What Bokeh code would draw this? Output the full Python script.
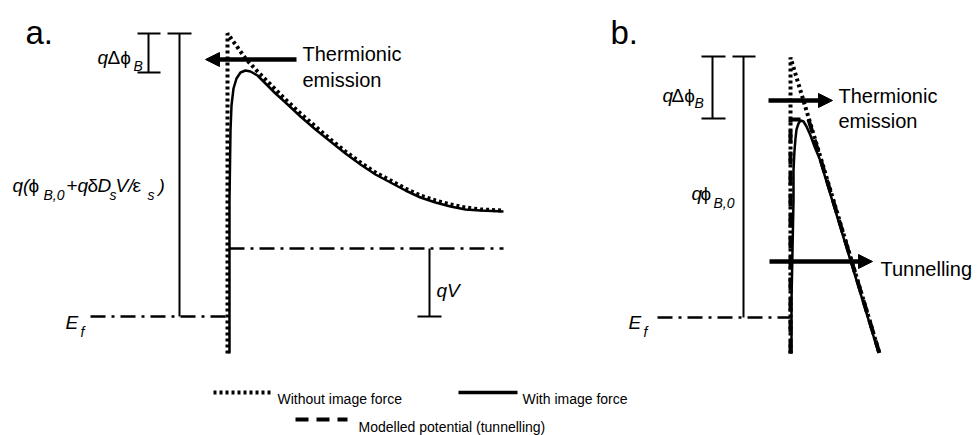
from bokeh.plotting import figure
from bokeh.models import Range1d, Arrow, NormalHead, ColumnDataSource
from bokeh.core.properties import value
from bokeh.embed import file_html
from bokeh.resources import INLINE

# ---------------- data (schematic, diagram units; y grows downward) ----------------
# Panel a: Schottky barrier band edge
a_without_x = [227, 227, 235, 245, 257, 270, 285, 300, 315, 330, 345, 360, 375, 390, 405, 420, 435, 450, 465, 480, 503]
a_without_y = [353, 33, 44, 58, 71, 84, 99, 113, 126, 139, 151, 162, 172, 180, 188, 195, 200, 204, 207, 209, 210]
a_with_x = [229, 229, 229, 230, 231, 233, 236, 240, 245, 250, 257, 265, 275, 285, 300, 315, 330, 345, 360,
            375, 390, 405, 420, 435, 450, 465, 480, 503]
a_with_y = [353, 300, 200, 130, 105, 88, 78, 72, 70, 71, 75, 83, 93, 102, 116, 129, 141, 153, 164,
            174, 182, 190, 197, 202, 206, 209, 210, 211]
# Panel b: thin barrier with modelled (tunnelling) potential
b_without_x = [790, 790, 879]
b_without_y = [353, 57, 353]
b_model_x = [790, 790, 808, 879]
b_model_y = [353, 119, 119, 353]
b_with_x = [791, 791, 792, 793, 793, 794, 795, 796, 798, 800, 803, 806, 810, 814, 819, 878]
b_with_y = [353, 300, 250, 200, 170, 150, 138, 129, 123, 120, 121, 126, 135, 146, 158, 352]

# reference energy levels
a_ef = dict(x=[90, 227], y=[316, 316])
a_bias = dict(x=[229, 503], y=[248, 248])
b_ef = dict(x=[657, 790], y=[317, 317])

# brackets (x0, y0, x1, y1)
br_x0 = [148, 137, 137, 179, 167, 429, 417, 712, 701, 701, 743, 732]
br_y0 = [33, 33, 72, 33, 33, 248, 316, 56, 56, 118, 56, 56]
br_x1 = [148, 160, 160, 179, 191, 429, 441, 712, 725, 725, 743, 755]
br_y1 = [72, 33, 72, 316, 33, 316, 316, 118, 56, 118, 317, 56]

# arrows (x_start, y_start, x_end, y_end)
arrows = [(296, 59, 205, 59), (768, 100, 832, 100), (769, 261, 872, 261)]

# texts: (text, x, baseline, size px, style)
texts = [
    ("a.", 25, 32, 33, "normal"), ("b.", 610, 32, 33, "normal"),
    ("q", 97, 57, 19, "italic"), ("Δϕ", 107, 57, 19, "normal"), ("B", 133, 65, 14, "italic"),
    ("q(", 12, 185, 19, "italic"), ("ϕ", 28, 185, 19, "normal"), ("B,0", 43, 194, 14, "italic"),
    ("+", 66, 185, 19, "normal"), ("q", 77, 185, 19, "italic"), ("δ", 87, 185, 19, "normal"),
    ("D", 97, 185, 19, "italic"), ("s", 109, 194, 14, "italic"), ("V/", 115, 185, 19, "italic"),
    ("ε", 132, 185, 19, "normal"), ("s", 147, 194, 14, "italic"), (")", 158, 185, 19, "italic"),
    ("E", 65, 322, 19, "italic"), ("f", 80, 331, 14, "italic"),
    ("qV", 436, 290, 19, "italic"),
    ("Thermionic", 302, 53, 20, "normal"), ("emission", 302, 79, 20, "normal"),
    ("q", 662, 95, 19, "italic"), ("Δϕ", 671, 95, 19, "normal"), ("B", 694, 102, 14, "italic"),
    ("q", 691, 193, 19, "italic"), ("ϕ", 700, 193, 19, "normal"), ("B,0", 713, 202, 14, "italic"),
    ("E", 628, 322, 19, "italic"), ("f", 643, 331, 14, "italic"),
    ("Thermionic", 838, 95, 20, "normal"), ("emission", 838, 120, 20, "normal"),
    ("Tunnelling", 880, 268, 20, "normal"),
]
legend_texts = [("Without image force", 277, 398), ("With image force", 522, 398),
                ("Modelled potential (tunnelling)", 358, 426)]
legend_dotted = dict(x=[213, 272], y=[392, 392])
legend_solid = dict(x=[458, 517], y=[392, 392])
legend_dashed = dict(x=[295, 347], y=[419, 419])

# ---------------- figure ----------------
W, H = 979, 435
p = figure(width=W, height=H, x_range=Range1d(0, W), y_range=Range1d(H, 0),
           output_backend="svg", toolbar_location=None, min_border=0,
           x_axis_location=None, y_axis_location=None)
p.grid.visible = False
p.outline_line_color = None
p.background_fill_color = "white"
p.border_fill_color = "white"

DOT = "3 3"
DASH = "13 8"
DASHDOT = "15 6 3 6"

# reference levels
for d in (a_ef, a_bias, b_ef):
    p.line(d["x"], d["y"], line_color="black", line_width=2.5, line_dash=DASHDOT)

# brackets
p.segment(br_x0, br_y0, br_x1, br_y1, line_color="black", line_width=2)

# curves
p.line(a_without_x, a_without_y, line_color="black", line_width=4, line_dash=DOT)
p.line(a_with_x, a_with_y, line_color="black", line_width=2.5)
p.line(b_without_x, b_without_y, line_color="black", line_width=4, line_dash=DOT)
p.line(b_model_x, b_model_y, line_color="black", line_width=4, line_dash=DASH)
p.line(b_with_x, b_with_y, line_color="black", line_width=2.5)

# arrows
for xs, ys, xe, ye in arrows:
    p.add_layout(Arrow(x_start=xs, y_start=ys, x_end=xe, y_end=ye, line_width=4.5, line_color="black",
                       end=NormalHead(size=14, fill_color="black", line_color="black", line_width=1)))

# legend samples
p.line(legend_dotted["x"], legend_dotted["y"], line_color="black", line_width=4, line_dash=DOT)
p.line(legend_solid["x"], legend_solid["y"], line_color="black", line_width=3.5)
p.line(legend_dashed["x"], legend_dashed["y"], line_color="black", line_width=4, line_dash=DASH)

# texts
src = ColumnDataSource(dict(
    text=[t[0] for t in texts], x=[t[1] for t in texts], y=[t[2] for t in texts],
    size=["%dpx" % t[3] for t in texts], style=[t[4] for t in texts]))
p.text(x="x", y="y", text="text", source=src, text_font=value("Liberation Sans"),
       text_font_size="size", text_font_style="style", text_align="left",
       text_baseline="alphabetic", text_color="black")

lsrc = ColumnDataSource(dict(text=[t[0] for t in legend_texts], x=[t[1] for t in legend_texts],
                             y=[t[2] for t in legend_texts]))
p.text(x="x", y="y", text="text", source=lsrc, text_font=value("Liberation Sans"),
       text_font_size="14px", text_align="left", text_baseline="alphabetic", text_color="black")

open("out.html", "w").write(file_html(p, INLINE))
